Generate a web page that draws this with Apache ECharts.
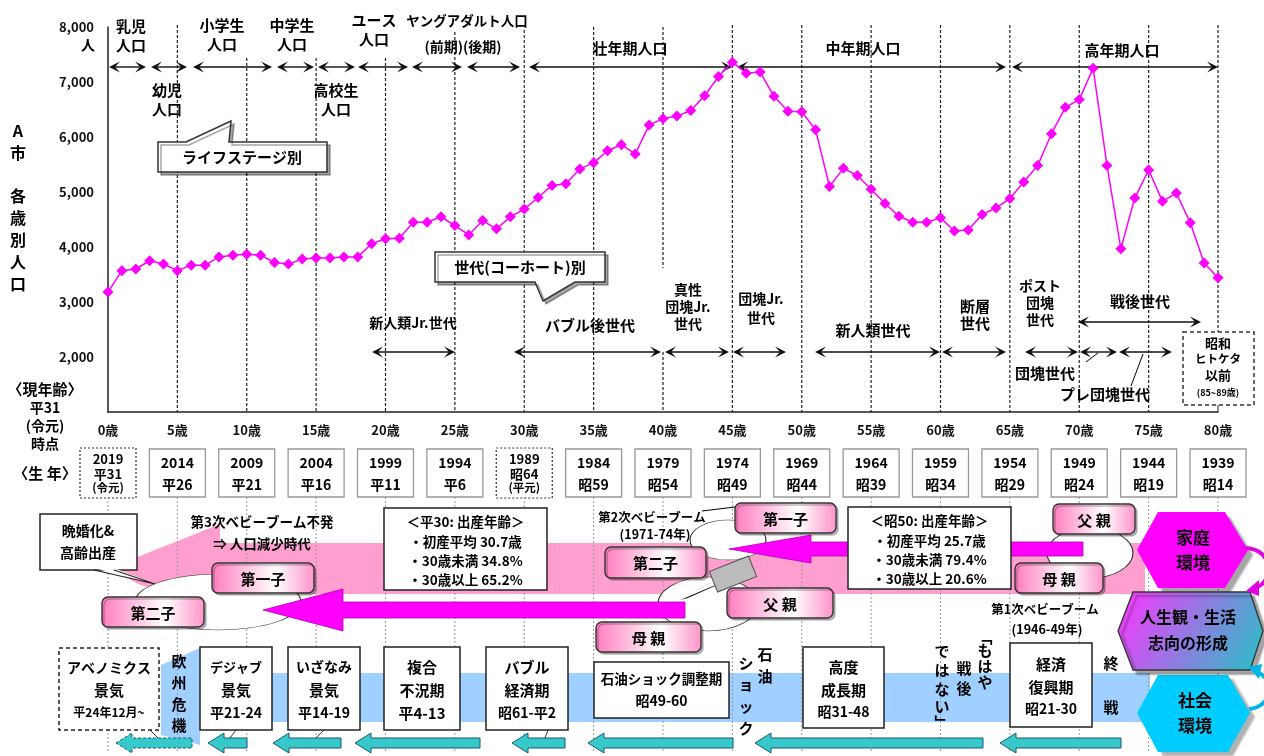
<!DOCTYPE html>
<html><head><meta charset="utf-8">
<script src="https://cdn.jsdelivr.net/npm/echarts@6/dist/echarts.min.js"></script>
<style>html,body{margin:0;padding:0;background:#fff}#c{width:1264px;height:756px}</style>
</head><body><div id="c"></div>
<script>
// ---------------- DATA ----------------
const ages = [0,1,2,3,4,5,6,7,8,9,10,11,12,13,14,15,16,17,18,19,20,21,22,23,24,25,26,27,28,29,30,31,32,33,34,35,36,37,38,39,40,41,42,43,44,45,46,47,48,49,50,51,52,53,54,55,56,57,58,59,60,61,62,63,64,65,66,67,68,69,70,71,72,73,74,75,76,77,78,79,80];
const population = [3180,3570,3600,3750,3690,3570,3670,3670,3820,3850,3870,3850,3720,3690,3780,3800,3800,3820,3820,4060,4150,4160,4450,4450,4550,4390,4220,4480,4330,4550,4690,4900,5120,5150,5420,5530,5750,5860,5690,6220,6330,6380,6480,6750,7100,7360,7160,7180,6740,6470,6460,6130,5100,5430,5300,5050,4790,4560,4450,4450,4530,4290,4310,4590,4710,4880,5180,5480,6060,6540,6680,7250,5480,3970,4890,5400,4830,4980,4440,3710,3440];
const ageTicks = [0,5,10,15,20,25,30,35,40,45,50,55,60,65,70,75,80];
const birthYears = ['2019','2014','2009','2004','1999','1994','1989','1984','1979','1974','1969','1964','1959','1954','1949','1944','1939'];
const birthEras = ['平31','平26','平21','平16','平11','平6','昭64','昭59','昭54','昭49','昭44','昭39','昭34','昭29','昭24','昭19','昭14'];
const eraNotes = {0:'(令元)', 30:'(平元)'};

const F = '"Noto Sans CJK JP","Noto Sans CJK SC",sans-serif';
const chart = echarts.init(document.getElementById('c'));
chart.setOption({
  animation:false,
  grid:{left:108,right:46,top:27,bottom:344},
  xAxis:{type:'value',min:0,max:80,interval:5,
    axisLine:{lineStyle:{color:'#222',width:1.5}},axisTick:{show:false},splitLine:{show:false},
    axisLabel:{formatter:'{value}歳',fontWeight:'bold',fontSize:13,color:'#111',margin:12,fontFamily:F}},
  yAxis:{type:'value',min:1000,max:8000,interval:1000,
    axisLine:{show:true,lineStyle:{color:'#222',width:1.5}},axisTick:{show:false},splitLine:{show:false},
    axisLabel:{formatter:v=>v===1000?'':v.toLocaleString('en-US'),fontWeight:'bold',fontSize:13,color:'#111',margin:14,fontFamily:F}},
  series:[{type:'line',data:ages.map((a,i)=>[a,population[i]]),symbol:'diamond',symbolSize:11,z:30,
    lineStyle:{color:'#ff00ff',width:1.5},itemStyle:{color:'#ff00ff'}}]
});

// ---------------- ANNOTATIONS ----------------
const els=[];
function T(x,y,text,size,opt){opt=opt||{};els.push({type:'text',x:x,y:y,z:opt.z||20,style:{text:text,fill:opt.color||'#000',fontSize:size||14,fontWeight:opt.weight||'bold',fontFamily:F,align:opt.align||'center',verticalAlign:'middle',textAlign:opt.align||'center',textVerticalAlign:'middle',lineHeight:opt.lh||Math.round((size||14)*1.3)}});}
function L(x1,y1,x2,y2,opt){opt=opt||{};els.push({type:'line',z:opt.z||15,shape:{x1,y1,x2,y2},style:{stroke:opt.color||'#000',lineWidth:opt.w||1,lineDash:opt.dash||null}});}
function R(x,y,w,h,opt){opt=opt||{};els.push({type:'rect',z:opt.z||8,shape:{x,y,width:w,height:h,r:opt.r||0},style:{fill:opt.fill||'#fff',stroke:opt.stroke===undefined?'#222':opt.stroke,lineWidth:opt.w==null?1.5:opt.w,lineDash:opt.dash||null,shadowColor:opt.sc||'rgba(0,0,0,0)',shadowOffsetX:opt.sx||0,shadowOffsetY:opt.sy||0,shadowBlur:opt.sb||0}});}
function P(points,opt){opt=opt||{};els.push({type:'polygon',z:opt.z||8,shape:{points},style:{fill:opt.fill||'#fff',stroke:opt.stroke||null,lineWidth:opt.w||1,lineDash:opt.dash||null,shadowColor:opt.sc||'rgba(0,0,0,0)',shadowOffsetX:opt.sx||0,shadowOffsetY:opt.sy||0,shadowBlur:opt.sb||0}});}
function PL(points,opt){opt=opt||{};els.push({type:'polyline',z:opt.z||9,shape:{points},style:{fill:null,stroke:opt.color||'#222',lineWidth:opt.w||1.2}});}
function E(cx,cy,rx,ry,opt){opt=opt||{};els.push({type:'circle',z:opt.z||5,x:cx,y:cy,scaleY:ry/rx,shape:{cx:0,cy:0,r:rx},style:{fill:'#fff',stroke:'#333',lineWidth:1.2,strokeNoScale:true}});}
function head(x,y,dir){P([[x,y],[x-dir*11,y-5.5],[x-dir*6,y],[x-dir*11,y+5.5]],{fill:'#111',z:16});}
function DA(x1,x2,y){L(x1+3,y,x2-3,y,{w:1.4,z:16,color:'#111'});head(x1,y,-1);head(x2,y,1);}
function BA(tip,end,y,hl,hh,sh,opt){P([[tip,y],[tip+hl,y-hh],[tip+hl,y-sh],[end,y-sh],[end,y+sh],[tip+hl,y+sh],[tip+hl,y+hh]],opt);}
const pinkFill={type:'linear',x:0,y:0,x2:1,y2:0,colorStops:[{offset:0,color:'#ff7cbe'},{offset:0.62,color:'#ffffff'},{offset:1,color:'#ff92c9'}]};
function PB(x,y,w,h,label){R(x,y,w,h,{fill:pinkFill,stroke:'#333',w:1.4,r:6,z:9,sc:'rgba(0,0,0,0.25)',sx:2,sy:2});T(x+w/2,y+h/2+1,label,15,{z:21});}
function WB(x,y,w,h,lines,ys,size,opt){opt=opt||{};R(x,y,w,h,Object.assign({z:9,w:1.5},opt));lines.forEach((s,i)=>T(x+w/2,ys[i],s,Array.isArray(size)?size[i]:size,{z:21}));}
function VT(x,chars,ys,size){chars.forEach((c,i)=>T(x,ys[i],c,size||15,{z:21}));}

const X=a=>chart.convertToPixel({xAxisIndex:0},a);
const Y=v=>chart.convertToPixel({yAxisIndex:0},v);
const axisY=Y(1000);

// vertical dashed lines in the plot
const lineTop={5:25,10:58,15:58,20:58,25:32,30:30,35:27};
ageTicks.forEach(a=>{ if(a===0) return;
  const x=X(a), t=lineTop[a]||25;
  if(a===40){L(x,27,x,268,{dash:[3,2],w:1.2,z:1,color:'#222'});L(x,352,x,axisY,{dash:[3,2],w:1.2,z:1,color:'#222'});}
  else if(a===80){L(x,t,x,332,{dash:[3,2],w:1.2,z:1,color:'#222'});L(x,405,x,axisY,{w:1,z:1,color:'#222'});}
  else L(x,t,x,axisY,{dash:[3,2],w:1.2,z:1,color:'#222'});
});
// grey lines in the lower part
ageTicks.forEach(a=>L(X(a),497,X(a),752,{color:'#999',w:1,dash:[2,2],z:4}));

// y title & units
T(88,45,'人',14);
VT(18,['A','市'],[131,153],16); VT(18,['各','歳','別','人','口'],[196,218,240,262,284],16);

// life stage labels and arrows
[['乳児\n人口',131,36],['幼児\n人口',167,100],['小学生\n人口',222,35],['中学生\n人口',292,35],['高校生\n人口',336,100],['ユース\n人口',374,30],['壮年期人口',630,48],['中年期人口',863,48],['高年期人口',1122,50]].forEach(d=>T(d[1],d[2],d[0],15,{lh:19}));
T(467,21,'ヤングアダルト人口',13.5); T(463,47,'(前期)(後期)',14);
[[109,146],[151,187],[193,272],[277,314],[318,355],[358,408],[412,462],[467,520],[529,732],[737,1006],[1012,1218]].forEach(s=>DA(s[0],s[1],67));

// callouts
P([[158,142],[186,142],[231,121],[229,142],[327,142],[327,172],[158,172]],{stroke:'#333',w:1.5,z:8,sc:'rgba(0,0,0,0.35)',sx:3,sy:3});
T(242,157,'ライフステージ別',15);
P([[435,252],[605,252],[605,282],[575,282],[543,301],[535,282],[435,282]],{stroke:'#333',w:1.5,z:8,sc:'rgba(0,0,0,0.35)',sx:3,sy:3});
T(520,267,'世代(コーホート)別',15);

// generation labels
T(413,323,'新人類Jr.世代',14); T(590,325,'バブル後世代',15);
T(688,307,'真性\n団塊Jr.\n世代',14,{lh:17}); T(761,308,'団塊Jr.\n世代',14,{lh:19});
T(873,330,'新人類世代',15); T(975,315,'断層\n世代',15,{lh:17});
T(1040,303,'ポスト\n団塊\n世代',14,{lh:17}); T(1140,301,'戦後世代',15);
T(1045,373,'団塊世代',15); T(1105,394,'プレ団塊世代',15);
[[372,455],[514,661],[665,729],[733,786],[815,940],[942,1006],[1025,1078],[1080,1117],[1119,1172]].forEach(s=>DA(s[0],s[1],352));
DA(1078,1201,322);
L(1086,362,1098,353,{w:1,z:16}); L(1131,386,1143,354,{w:1,z:16});
R(1183,332,71,73,{dash:[4,3],w:1.5,z:8,stroke:'#333'});
T(1218,343,'昭和',13); T(1218,359,'ヒトケタ',11.5); T(1218,375,'以前',13); T(1218,393,'(85~89歳)',9);

// current age / birth year labels
T(45,389,'〈現年齢〉',15); T(45,408,'平31',14); T(45,426,'(令元)',14); T(45,444,'時点',14);
T(45,473,'〈生 年〉',15);
ageTicks.forEach((a,i)=>{
  const x=X(a)-28;
  if(eraNotes[a]){R(x,448,56,50,{dash:[2,2],stroke:'#333',w:1.2,z:8});T(x+28,459,birthYears[i],13);T(x+28,474,birthEras[i],13);T(x+28,488,eraNotes[a],11.5);}
  else{R(x,449,56,48,{stroke:'#999',w:1.3,z:8});T(x+28,463,birthYears[i],14);T(x+28,485,birthEras[i],14);}
});

// family environment band (pink)
P([[110,568],[220,524],[220,543],[1145,543],[1145,594],[165,594],[138,584]],{fill:'#ff9fcf',z:3});
// social environment band (blue)
P([[161,665],[200,648],[200,673],[1150,673],[1150,722],[200,722],[200,745],[161,735]],{fill:'#9fd0ff',z:3});

// ellipses
E(218,602,83,28); E(728,540,38,20); E(708,604,50,27); E(1090,553,43,25);
// magenta arrows
BA(263,685,610,80,21,8,{fill:'#ff00ff',stroke:'#b000b0',w:0.8,z:6});
BA(729,1083,549,82,14,7,{fill:'#ff00ff',stroke:'#b000b0',w:0.8,z:6});
// grey connector
P([[692,592],[773,553],[700,588]],{fill:'#222',z:7}); P([[680,600],[760,566],[688,598]],{fill:'#222',z:7});
els.push({type:'rect',z:8,x:733,y:574,rotation:0.38,shape:{x:-21,y:-11,width:42,height:22},style:{fill:'#bbb',stroke:'#555',lineWidth:1}});

// late marriage callout
R(40,514,97,56,{z:9,w:1.5});
P([[94,568],[155,584],[114,568]],{fill:'#fff',z:10}); PL([[94,570],[155,584],[114,570]],{z:10});
T(88,531,'晩婚化&',14); T(88,553,'高齢出産',14);
T(262,522,'第3次ベビーブーム不発',13.5); T(262,544,'⇒ 人口減少時代',13.5);

// pink boxes
PB(212,563,102,30,'第一子'); PB(102,597,102,30,'第二子');
PB(605,547,101,31,'第二子'); PB(735,503,101,30,'第一子');
PB(727,588,106,30,'父 親'); PB(596,622,105,30,'母 親');
PB(1053,504,82,30,'父 親'); PB(1015,563,88,30,'母 親');

// birth age boxes
WB(384,508,163,82,['＜平30: 出産年齢＞','・初産平均 30.7歳','・30歳未満 34.8%','・30歳以上 65.2%'],[522,542,561,580],13.5);
WB(848,507,163,82,['＜昭50: 出産年齢＞','・初産平均 25.7歳','・30歳未満 79.4%','・30歳以上 20.6%'],[521,541,560,579],13.5);
T(652,517,'第2次ベビーブーム',12.5); T(655,534,'(1971-74年)',12.5);
L(702,511,735,507,{w:1,z:9});
T(1045,609,'第1次ベビーブーム',12.5); T(1047,629,'(1946-49年)',12.5);

// economy boxes
WB(59,648,100,82,['アベノミクス','景気','平24年12月~'],[668,690,712],[14,15,12],{dash:[4,3]});
VT(179,['欧','州','危','機'],[661,682,704,725],15);
WB(200,647,72,83,['デジャブ','景気','平21-24'],[667,690,713],[13,15,14]);
WB(288,647,72,83,['いざなみ','景気','平14-19'],[667,690,713],[14,15,14]);
WB(384,647,76,83,['複合','不況期','平4-13'],[667,690,713],15);
WB(486,647,82,83,['バブル','経済期','昭61-平2'],[667,690,713],[15,15,14]);
WB(594,662,135,56,['石油ショック調整期','昭49-60'],[679,701],[13.5,14]);
VT(765,['石','油'],[654,676],15); VT(746,['シ','ョ','ッ','ク'],[663,684,706,728],15);
WB(803,647,81,81,['高度','成長期','昭31-48'],[667,690,712],[15,15,14]);
VT(985,['﹁','も','は','や'],[637,650,666,682],15);
VT(964,['戦','後'],[668,688],15);
VT(942,['で','は','な','い','﹂'],[651,670,689,706,722],15);
WB(1010,643,82,84,['経済','復興期','昭21-30'],[664,687,709],[15,15,14]);
T(1111,663,'終',15); T(1111,707,'戦',15);

// bottom teal arrows
BA(116,192,743,16,10,5,{fill:'#37c9c9',stroke:'#1b5b7a',w:1,dash:[3,2],z:6});
[[208,247],[273,341],[355,480],[512,565],[588,733],[755,983],[1000,1121]].forEach(s=>BA(s[0],s[1],743,16,10,5,{fill:'#37c9c9',stroke:'#1b5b7a',w:1,z:6}));
[[150,730,158,738],[236,730,230,738],[324,730,316,738],[548,730,545,738]].forEach(s=>L(s[0],s[1],s[2],s[3],{w:1,z:7,color:'#333'}));

// hexagons
P([[1137,550],[1158,512],[1225,512],[1248,550],[1225,588],[1158,588]],{fill:'#ff00ff',z:11,sc:'rgba(0,0,0,0.35)',sx:5,sy:5,sb:2});
T(1193,550,'家庭\n環境',17,{lh:25,z:22});
P([[1118,631],[1133,592],[1250,592],[1263,631],[1250,670],[1133,670]],{fill:{type:'linear',x:0,y:0,x2:1,y2:1,colorStops:[{offset:0,color:'#ff33ff'},{offset:1,color:'#22c4c4'}]},stroke:'#333',w:1.3,z:12,sc:'rgba(0,0,0,0.35)',sx:4,sy:4,sb:2});
T(1188,630,'人生観・生活\n志向の形成',16,{lh:26,z:22});
P([[1137,713],[1158,675],[1228,675],[1250,713],[1228,752],[1158,752]],{fill:'#00ccff',z:11,sc:'rgba(0,0,0,0.3)',sx:5,sy:4,sb:2});
T(1195,713,'社会\n環境',17,{lh:25,z:22});
els.push({type:'bezierCurve',z:13,shape:{x1:1246,y1:548,cpx1:1276,cpy1:550,cpx2:1272,cpy2:584,x2:1256,y2:587},style:{stroke:'#e000e0',lineWidth:4,fill:null}});
P([[1246,591],[1259,580],[1259,596]],{fill:'#e000e0',z:13});
els.push({type:'bezierCurve',z:13,shape:{x1:1249,y1:709,cpx1:1276,cpy1:706,cpx2:1272,cpy2:676,x2:1258,y2:673},style:{stroke:'#00b8e6',lineWidth:4,fill:null}});
P([[1248,667],[1262,664],[1259,679]],{fill:'#00b8e6',z:13});

chart.setOption({graphic:{elements:els}});
</script></body></html>
